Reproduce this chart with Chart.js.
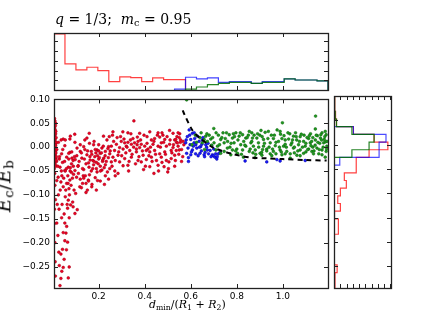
<!DOCTYPE html>
<html>
<head>
<meta charset="utf-8">
<script src="https://cdn.jsdelivr.net/npm/chart.js@4"></script>
<style>
  body { margin: 0; background: #fff; }
  #wrap { position: relative; width: 436px; height: 320px; overflow: hidden; }
  canvas { position: absolute; }
  .lbl { position: absolute; font-family: "DejaVu Serif", serif; color: #000; white-space: nowrap; }
  .lbl i { font-style: italic; }
  .lbl sub { font-size: 70%; vertical-align: -0.25em; line-height: 0; }
</style>
</head>
<body>
<div id="wrap">
  <canvas id="topHist" width="340" height="92" style="left:0;top:0"></canvas>
  <canvas id="main" width="340" height="230" style="left:0;top:90px"></canvas>
  <canvas id="sideHist" width="106" height="230" style="left:330px;top:90px"></canvas>
  <div class="lbl" style="left:55px;top:11px;font-size:14px"><i>q</i> = 1/3;&nbsp; <i>m</i><sub>c</sub> = 0.95</div>
  <div class="lbl" style="left:149px;top:298px;font-size:11px"><i>d</i><sub>min</sub>/(<i>R</i><sub>1</sub> + <i>R</i><sub>2</sub>)</div>
  <div class="lbl" style="left:-23px;top:175px;font-size:19px;letter-spacing:0.5px;transform:rotate(-90deg);transform-origin:center"><i>E</i><sub>c</sub>/<i>E</i><sub>b</sub></div>
</div>
<script>
// axis ranges
const xMin = 0.006, xMax = 1.196;
const yMin = -0.295, yMax = 0.10;
const nBins = 25;

// scatter points [d_min/(R1+R2), Ec/Eb]
const redPts = [
  [0.008,0.06],[0.01,0.055],[0.007,0.05],[0.012,0.045],[0.009,0.04],[0.011,0.036],[0.008,0.032],[0.013,0.028],
  [0.01,0.025],[0.007,0.021],[0.012,0.018],[0.009,0.015],[0.011,0.012],[0.008,0.01],[0.014,0.008],[0.01,0.005],
  [0.007,0.003],[0.012,0.001],[0.009,-0.002],[0.011,-0.004],[0.008,-0.006],[0.013,-0.008],[0.01,-0.01],[0.007,-0.012],
  [0.012,-0.014],[0.009,-0.016],[0.011,-0.019],[0.008,-0.021],[0.014,-0.023],[0.01,-0.025],[0.007,-0.028],[0.012,-0.03],
  [0.009,-0.033],[0.011,-0.036],[0.016,-0.02],[0.018,-0.005],[0.015,0.01],[0.017,-0.03],[0.009,-0.055],[0.012,-0.11],
  [0.008,-0.16],[0.01,-0.2],
  [0.006,0.058],[0.013,0.05],[0.006,0.042],[0.014,0.033],[0.006,0.024],[0.015,0.02],[0.006,0.013],[0.013,0.004],
  [0.006,-0.008],[0.014,-0.012],[0.006,-0.018],[0.015,-0.027],[0.006,-0.032],[0.013,-0.04],[0.007,-0.045],[0.01,-0.08],
  [0.008,-0.13],[0.011,-0.24],[0.012,-0.27],
  [0.024,-0.063],[0.036,-0.073],[0.046,-0.083],[0.061,-0.076],[0.075,-0.069],[0.071,-0.087],[0.055,-0.104],[0.068,-0.111],
  [0.078,-0.121],[0.089,-0.125],[0.087,-0.115],[0.065,-0.128],[0.039,-0.148],[0.053,-0.159],[0.061,-0.166],[0.072,-0.148],
  [0.046,-0.179],[0.053,-0.196],[0.065,-0.199],[0.043,-0.214],[0.036,-0.224],[0.029,-0.248],[0.046,-0.252],[0.072,-0.251],
  [0.036,-0.275],[0.068,-0.274],[0.032,-0.29],[0.018,-0.07],[0.018,-0.159],[0.097,-0.139],[0.107,-0.131],[0.1,-0.097],
  [0.118,-0.083],[0.104,-0.063],[0.13,-0.076],[0.145,-0.076],[0.133,-0.06],[0.155,-0.069],[0.17,-0.083],[0.151,-0.09],
  [0.032,-0.042],[0.043,-0.032],[0.053,-0.049],[0.068,-0.042],[0.082,-0.035],[0.039,-0.014],[0.061,-0.021],[0.075,-0.011],
  [0.089,-0.028],[0.053,0.003],[0.097,0.01],[0.075,0.017],[0.046,0.017],[0.029,-0.025],[0.082,-0.053],[0.097,-0.049],
  [0.111,-0.039],
  [0.022,-0.04],[0.025,-0.1],[0.028,-0.13],[0.03,-0.02],[0.033,-0.09],[0.038,-0.05],[0.041,-0.12],[0.044,-0.005],
  [0.048,-0.065],[0.05,-0.14],[0.052,-0.03],[0.057,-0.09],[0.058,-0.18],[0.06,-0.045],[0.063,-0.12],[0.066,-0.06],
  [0.07,-0.025],[0.073,-0.1],[0.076,-0.05],[0.08,-0.08],[0.083,-0.01],[0.086,-0.065],[0.09,-0.04],[0.093,-0.09],
  [0.095,-0.02],[0.02,-0.12],[0.023,-0.185],[0.027,-0.22],[0.04,-0.26],[0.05,-0.235],[0.06,-0.215],[0.025,0.01],
  [0.037,0.015],[0.055,0.015],[0.077,0.023],[0.096,0.027],[0.14,0.015],[0.159,0.029],[0.221,0.023],[0.236,0.015],
  [0.178,0.005],[0.193,-0.006],[0.214,-0.002],[0.168,-0.009],[0.207,-0.013],[0.229,-0.009],[0.243,0.001],[0.106,-0.002],
  [0.12,-0.009],[0.135,0.001],[0.149,-0.016],[0.183,-0.02],[0.2,-0.025],[0.222,-0.023],[0.127,-0.023],[0.098,-0.026],
  [0.156,-0.033],[0.178,-0.037],[0.207,-0.04],[0.229,-0.037],[0.11,-0.04],[0.135,-0.047],[0.168,-0.05],[0.193,-0.052],
  [0.214,-0.048],[0.055,-0.05],[0.077,-0.043],[0.091,-0.057],[0.142,-0.06],[0.185,-0.064],[0.229,-0.06],[0.12,-0.067],
  [0.156,-0.071],[0.207,-0.071],[0.243,-0.067],[0.171,-0.078],[0.067,-0.076],[0.04,-0.06],[0.149,0.019],[0.246,0.022],
  [0.07,-0.013],[0.084,-0.023],[0.188,-0.012],[0.175,-0.028],[0.19,-0.032],[0.162,-0.02],[0.2,-0.008],[0.217,-0.03],
  [0.105,-0.018],[0.115,-0.03],[0.125,-0.012],[0.13,-0.045],[0.138,-0.025],[0.145,-0.035],[0.152,-0.008],[0.158,-0.042],
  [0.163,-0.027],[0.17,-0.015],[0.174,-0.045],[0.18,-0.03],[0.185,-0.005],[0.19,-0.045],[0.195,-0.018],[0.198,-0.035],
  [0.203,-0.022],[0.208,-0.05],[0.212,-0.012],[0.218,-0.027],[0.224,-0.043],[0.228,-0.018],[0.233,-0.03],[0.238,-0.052],
  [0.242,-0.022],[0.12,0.005],[0.14,-0.005],[0.16,0.008],[0.18,0.012],[0.2,0.005],[0.22,0.002],[0.24,-0.003],
  [0.135,-0.065],[0.16,-0.058],[0.195,-0.07],[0.225,-0.078],[0.112,-0.055],[0.125,-0.085],[0.19,-0.09],[0.145,-0.095],
  [0.353,0.055],[0.262,0.032],[0.305,0.032],[0.327,0.03],[0.378,0.029],[0.458,0.03],[0.523,0.029],[0.508,0.035],
  [0.429,0.015],[0.443,0.018],[0.465,0.021],[0.487,0.016],[0.53,0.015],[0.538,0.01],[0.298,0.012],[0.313,0.009],
  [0.327,0.01],[0.342,0.006],[0.356,0.009],[0.371,0.012],[0.385,0.006],[0.349,0.018],[0.368,0.021],[0.277,0.006],
  [0.255,0.002],[0.269,-0.007],[0.291,-0.001],[0.306,-0.004],[0.32,0.002],[0.335,-0.007],[0.364,-0.004],[0.378,-0.001],
  [0.4,0.002],[0.414,-0.004],[0.436,0.006],[0.458,0.002],[0.472,0.009],[0.494,0.002],[0.508,0.006],[0.523,-0.001],
  [0.545,0.002],[0.422,-0.01],[0.443,-0.007],[0.465,-0.014],[0.487,-0.01],[0.515,-0.007],[0.53,-0.017],[0.248,-0.014],
  [0.262,-0.021],[0.284,-0.017],[0.313,-0.024],[0.342,-0.021],[0.371,-0.028],[0.393,-0.017],[0.407,-0.026],[0.429,-0.021],
  [0.451,-0.028],[0.472,-0.021],[0.494,-0.028],[0.515,-0.024],[0.291,-0.031],[0.327,-0.038],[0.385,-0.031],[0.422,-0.041],
  [0.458,-0.038],[0.484,-0.041],[0.505,-0.031],[0.284,-0.055],[0.306,-0.039],[0.248,-0.045],[0.27,-0.05],[0.255,-0.031],
  [0.407,-0.007],[0.537,-0.007],[0.479,0.025],[0.422,0.032],[0.364,-0.01],
  [0.25,-0.008],[0.258,-0.04],[0.265,0.012],[0.272,-0.028],[0.28,0.02],[0.287,-0.01],[0.295,0.022],[0.3,-0.018],
  [0.31,0.017],[0.318,-0.012],[0.323,0.0],[0.332,-0.03],[0.338,0.015],[0.345,-0.015],[0.352,0.0],[0.36,-0.035],
  [0.367,0.005],[0.375,-0.02],[0.382,0.015],[0.39,-0.008],[0.397,0.025],[0.403,-0.04],[0.41,0.008],[0.418,-0.018],
  [0.425,0.0],[0.432,-0.03],[0.44,0.012],[0.447,-0.015],[0.455,0.025],[0.46,-0.05],[0.468,0.0],[0.475,-0.032],
  [0.482,0.01],[0.49,-0.015],[0.497,0.022],[0.503,-0.045],[0.51,0.015],[0.518,-0.012],[0.525,0.005],[0.533,-0.028],
  [0.54,0.022],[0.548,-0.015],[0.552,0.028],[0.56,-0.03],[0.567,0.012],[0.272,-0.06],[0.33,-0.05],[0.395,-0.047],
  [0.44,-0.055],[0.5,-0.052],[0.53,-0.04],[0.26,0.025],[0.34,0.028],[0.41,0.022],[0.475,0.03],[0.545,0.03],
  [0.55,0.02],[0.56,-0.005],[0.555,0.01],[0.565,-0.02],[0.57,0.005],[0.556,0.015],[0.542,0.009],[0.535,0.016],[0.55,-0.006]
];
const bluePts = [
  [0.593,0.036],[0.607,0.029],[0.585,0.022],[0.6,0.016],[0.617,0.018],[0.629,0.023],[0.578,0.009],[0.597,0.005],
  [0.614,0.009],[0.636,0.012],[0.65,0.015],[0.588,-0.002],[0.607,-0.006],[0.626,-0.002],[0.643,0.001],[0.665,0.005],
  [0.582,-0.013],[0.6,-0.016],[0.621,-0.014],[0.64,-0.013],[0.658,-0.016],[0.672,-0.006],[0.694,-0.016],[0.708,-0.014],
  [0.655,0.013],[0.662,-0.011],[0.677,-0.014],[0.684,-0.007],[0.698,-0.018],[0.705,-0.021],[0.72,-0.014],[0.727,-0.011],
  [0.669,0.0],[0.691,0.003],[0.836,-0.029],[0.93,-0.031],[0.974,-0.026],[0.988,-0.029],[1.097,-0.028],[0.648,0.006],
  [0.713,-0.025],[0.611,0.002],[0.632,-0.018],[0.59,-0.022],
  [0.595,0.025],[0.603,-0.01],[0.615,0.03],[0.622,0.005],[0.638,0.0],[0.646,-0.008],[0.653,0.02],[0.66,-0.02],
  [0.675,0.008],[0.688,-0.02],[0.7,-0.004],[0.715,-0.02],[0.58,0.015],[0.59,-0.03]
];
const greenPts = [
  [0.582,0.099],[0.7,0.039],[0.665,0.023],[0.658,0.016],[0.672,0.012],[0.687,0.017],[0.65,0.009],[0.701,0.009],
  [0.716,0.002],[0.73,0.016],[0.745,0.009],[0.767,0.026],[0.781,0.019],[0.796,0.03],[0.81,0.023],[0.825,0.026],
  [0.839,0.019],[0.788,0.009],[0.817,0.005],[0.839,0.002],[0.861,0.009],[0.759,-0.002],[0.781,-0.006],[0.745,-0.009],
  [0.73,-0.013],[0.709,-0.006],[0.803,-0.013],[0.825,-0.006],[0.854,-0.009],[0.868,0.019],[0.854,0.033],[0.774,-0.016],
  [0.998,0.051],[1.142,0.065],[1.141,0.038],[0.865,0.03],[0.923,0.031],[0.937,0.033],[0.988,0.033],[1.046,0.023],
  [1.075,0.022],[1.112,0.018],[1.17,0.03],[1.184,0.033],[1.163,0.019],[0.887,0.019],[0.916,0.016],[0.959,0.018],
  [0.996,0.018],[1.01,0.015],[1.025,0.017],[0.981,0.012],[0.945,0.009],[0.894,0.009],[0.872,0.002],[0.916,0.002],
  [0.967,0.003],[1.003,0.002],[1.039,0.009],[1.068,0.005],[1.09,0.012],[1.119,0.009],[1.141,0.015],[1.177,0.009],
  [1.191,0.002],[0.88,-0.006],[0.93,-0.004],[0.959,-0.009],[0.988,-0.006],[1.017,-0.009],[1.046,-0.002],[1.075,-0.006],
  [1.097,0.002],[1.112,-0.004],[1.126,-0.009],[1.148,-0.002],[1.17,-0.006],[1.188,-0.009],[0.901,-0.013],[0.945,-0.014],
  [1.032,-0.014],[1.09,-0.013],[1.156,-0.014],[0.909,-0.017],[0.996,-0.016],[1.061,-0.017],
  [0.829,-0.021],[0.879,-0.022],[0.952,-0.018],[1.032,-0.023],[1.133,-0.014],[1.184,-0.021],[1.075,-0.018],[1.01,-0.014],
  [0.908,-0.011],[0.62,0.025],[0.64,0.02],[0.67,0.028],[0.69,0.004],[0.72,0.025],[0.74,0.03],[0.76,0.012],
  [0.79,0.022],[0.8,-0.004],[0.83,0.012],[0.85,0.025],[0.87,-0.012],[0.89,0.028],[0.91,0.022],[0.93,-0.008],
  [0.95,0.025],[0.97,-0.014],[0.99,0.027],[1.01,0.006],[1.03,0.028],[1.05,-0.012],[1.06,0.015],[1.08,0.027],
  [1.1,-0.01],[1.12,0.028],[1.13,0.0],[1.15,0.024],[1.17,-0.016],[1.18,0.016],[1.19,-0.004],[1.16,0.008],
  [1.105,0.02],[1.125,0.012],[1.14,0.004],[1.165,0.026],[1.185,0.011],[1.055,0.03],[0.975,0.036],[0.905,0.035],
  [0.605,0.005],[0.625,0.01],[0.645,0.03],[0.66,-0.005],[0.68,0.025],[0.695,0.02],[0.71,0.03],[0.725,0.005],
  [0.735,0.02],[0.75,0.018],[0.755,0.03],[0.77,0.0],[0.775,0.008],[0.785,0.028],[0.795,-0.008],[0.805,0.015],
  [0.815,0.03],[0.82,-0.015],[0.835,0.004],[0.845,0.02],[0.858,-0.004],[0.865,0.012],[0.875,0.025],[0.882,-0.015],
  [0.895,0.0],[0.9,0.025],[0.912,-0.005],[0.92,0.008],[0.935,0.018],[0.94,0.0],[0.955,-0.004],[0.963,0.025],
  [0.97,0.01],[0.985,0.0],[0.993,-0.01],[1.005,0.024],[1.015,0.0],[1.022,0.03],[1.035,0.005],[1.042,0.015],
  [1.05,0.0],[1.058,0.022],[1.065,-0.008],[1.072,0.012],[1.085,0.0],[1.092,0.025],[1.1,0.008],[1.108,-0.005],
  [1.115,0.024],[1.122,0.003],[1.13,0.02],[1.135,-0.008],[1.145,0.025],[1.152,0.01],[1.158,-0.005],[1.168,0.015],
  [1.175,0.0],[1.182,0.022],[1.188,0.026],[1.192,0.012]
];

// dashed boundary curve
const curveX = [0.565, 0.571, 0.607, 0.643, 0.698, 0.785, 0.858, 0.93, 1.0, 1.1, 1.19];
const curveY = [0.077, 0.07, 0.0355, 0.018, -0.001, -0.0147, -0.0215, -0.0235, -0.025, -0.027, -0.028];

// top histogram counts per bin of d_min (null = no bin)
const redTop   = [57.6, 26.9, 20.7, 23.4, 20.0, 8.6, 13.4, 12.8, 8.6, 12.4, 10.7, 10.7, null, null, null, null, null, null, null, null, null, null, null, null, null];
const blueTop  = [null, null, null, null, null, null, null, null, null, null, null, 1.0, 13.1, 11.4, 12.4, 7.9, 8.6, 8.6, 6.9, 8.6, 8.6, 11.4, 10.3, 10.3, 9.3];
const greenTop = [null, null, null, null, null, null, null, null, null, null, null, null, 1.0, 3.1, 5.5, 6.9, 7.9, 7.9, 6.9, 7.9, 7.9, 11.4, 10.3, 10.3, 9.3];

// side histogram counts per bin of Ec/Eb, from top (0.10) downwards
const redSide   = [1, 1.5, 2.5, 4, 31, 64, 86, 56, 35.5, 35.5, 16.5, 19.7, 10.2, 6, 10.2, 0.8, 7, 7, 0.8, 0.5, 0.5, 0, 5, 1.6, 1.6];
const blueSide  = [null, null, null, null, 31, 83, 72, 72, 9.2, null, null, null, null, null, null, null, null, null, null, null, null, null, null, null, null];
const greenSide = [1, 1, 2, 4, 28.6, 64, 56, 28.6, null, null, null, null, null, null, null, null, null, null, null, null, null, null, null, null, null];

const xTicks = [0.2, 0.4, 0.6, 0.8, 1.0];
const yTicks = [0.10, 0.05, 0.00, -0.05, -0.10, -0.15, -0.20, -0.25];
const topCountTicks = [10, 20, 30, 40, 50];
const sideCountTicks = [10, 20, 30, 40, 50, 60, 70, 80, 90];

function toXY(arr) { return arr.map(p => ({x: p[0], y: p[1]})); }

// outline of a step histogram
function stepOutline(counts, lo, hi, horizontal) {
  const w = (hi - lo) / nBins;
  const pts = [];
  let started = false;
  for (let i = 0; i < counts.length; i++) {
    const c = counts[i];
    if (c === null) continue;
    const a = horizontal ? hi - i * w : lo + i * w;
    const b = horizontal ? hi - (i + 1) * w : lo + (i + 1) * w;
    if (!started) { pts.push(horizontal ? {x: 0, y: a} : {x: a, y: 0}); started = true; }
    if (horizontal) { pts.push({x: c, y: a}); pts.push({x: c, y: b}); }
    else { pts.push({x: a, y: c}); pts.push({x: b, y: c}); }
  }
  const last = pts[pts.length - 1];
  pts.push(horizontal ? {x: 0, y: last.y} : {x: last.x, y: 0});
  return pts;
}

// frame and inward tick marks, matplotlib style
const frameTicks = {
  id: 'frameTicks',
  afterDraw(chart, args, opts) {
    const {ctx, chartArea: a, scales} = chart;
    ctx.save();
    ctx.strokeStyle = '#222';
    ctx.lineWidth = 1;
    const L = 4;
    (opts.x || []).forEach(v => {
      const px = Math.round(scales.x.getPixelForValue(v)) + 0.5;
      ctx.beginPath();
      ctx.moveTo(px, a.bottom); ctx.lineTo(px, a.bottom - L);
      ctx.moveTo(px, a.top); ctx.lineTo(px, a.top + L);
      ctx.stroke();
    });
    (opts.y || []).forEach(v => {
      const py = Math.round(scales.y.getPixelForValue(v)) + 0.5;
      ctx.beginPath();
      ctx.moveTo(a.left, py); ctx.lineTo(a.left + L, py);
      ctx.moveTo(a.right, py); ctx.lineTo(a.right - L, py);
      ctx.stroke();
    });
    ctx.lineWidth = 1.3;
    ctx.strokeRect(Math.round(a.left) + 0.5, Math.round(a.top) + 0.5,
                   Math.round(a.right - a.left), Math.round(a.bottom - a.top));
    ctx.restore();
  }
};
Chart.register(frameTicks);

const tickFont = {family: 'DejaVu Sans', size: 9};
const fmt = v => {
  if (Math.abs(v) < 1e-9) return '0.00';
  return v.toFixed(2).replace('-', '\u2212');
};

const base = {
  responsive: false,
  animation: false,
  plugins: {legend: {display: false}, tooltip: {enabled: false}},
  events: []
};

// main scatter
new Chart(document.getElementById('main'), {
  type: 'scatter',
  data: {
    datasets: [
      {type: 'line', data: curveX.map((x, i) => ({x: x, y: curveY[i]})), borderColor: '#000',
       borderWidth: 2, borderDash: [5, 4], pointRadius: 0, fill: false, tension: 0.3},
      {data: toXY(greenPts), backgroundColor: '#1e9a1e', borderColor: '#0b5e0b', borderWidth: 0.5, pointRadius: 1.4},
      {data: toXY(bluePts), backgroundColor: '#1a1aff', borderColor: '#0000a0', borderWidth: 0.5, pointRadius: 1.4},
      {data: toXY(redPts), backgroundColor: '#ee0022', borderColor: '#a00018', borderWidth: 0.5, pointRadius: 1.4}
    ]
  },
  options: Object.assign({}, base, {
    layout: {padding: {top: 6, right: 12, left: 0, bottom: 0}},
    plugins: Object.assign({}, base.plugins, {frameTicks: {x: xTicks, y: yTicks}}),
    scales: {
      x: {
        type: 'linear', min: xMin, max: xMax,
        grid: {display: false, drawTicks: false}, border: {display: false},
        ticks: {stepSize: 0.2, includeBounds: false, font: tickFont, color: '#000', padding: 3,
                maxRotation: 0, callback: v => v.toFixed(1)},
        afterFit: s => { s.height = 32; }
      },
      y: {
        type: 'linear', min: yMin, max: yMax,
        grid: {display: false, drawTicks: false}, border: {display: false},
        ticks: {stepSize: 0.05, includeBounds: false, font: tickFont, color: '#000', padding: 4, callback: fmt},
        afterFit: s => { s.width = 54; }
      }
    }
  })
});

// top histogram
new Chart(document.getElementById('topHist'), {
  type: 'scatter',
  data: {
    datasets: [
      {data: stepOutline(greenTop, xMin, xMax, false), showLine: true, borderColor: 'rgba(0,110,0,0.85)', borderWidth: 1.2, pointRadius: 0},
      {data: stepOutline(blueTop, xMin, xMax, false), showLine: true, borderColor: 'rgba(0,0,255,0.75)', borderWidth: 1.2, pointRadius: 0},
      {data: stepOutline(redTop, xMin, xMax, false), showLine: true, borderColor: 'rgba(255,0,0,0.75)', borderWidth: 1.2, pointRadius: 0}
    ]
  },
  options: Object.assign({}, base, {
    layout: {padding: {top: 33, right: 12, left: 54, bottom: 2}},
    plugins: Object.assign({}, base.plugins, {frameTicks: {x: xTicks, y: topCountTicks}}),
    scales: {
      x: {type: 'linear', min: xMin, max: xMax, display: false},
      y: {type: 'linear', min: 0, max: 58.6, display: false}
    }
  })
});

// side histogram
new Chart(document.getElementById('sideHist'), {
  type: 'scatter',
  data: {
    datasets: [
      {data: stepOutline(greenSide, yMin, yMax, true), showLine: true, borderColor: 'rgba(0,110,0,0.85)', borderWidth: 1.2, pointRadius: 0},
      {data: stepOutline(blueSide, yMin, yMax, true), showLine: true, borderColor: 'rgba(0,0,255,0.7)', borderWidth: 1.2, pointRadius: 0},
      {data: stepOutline(redSide, yMin, yMax, true), showLine: true, borderColor: 'rgba(255,0,0,0.75)', borderWidth: 1.2, pointRadius: 0}
    ]
  },
  options: Object.assign({}, base, {
    layout: {padding: {top: 6, right: 45, left: 4, bottom: 32}},
    plugins: Object.assign({}, base.plugins, {frameTicks: {x: sideCountTicks, y: yTicks}}),
    scales: {
      x: {type: 'linear', min: 0, max: 91, display: false},
      y: {type: 'linear', min: yMin, max: yMax, display: false}
    }
  })
});
</script>
</body>
</html>
